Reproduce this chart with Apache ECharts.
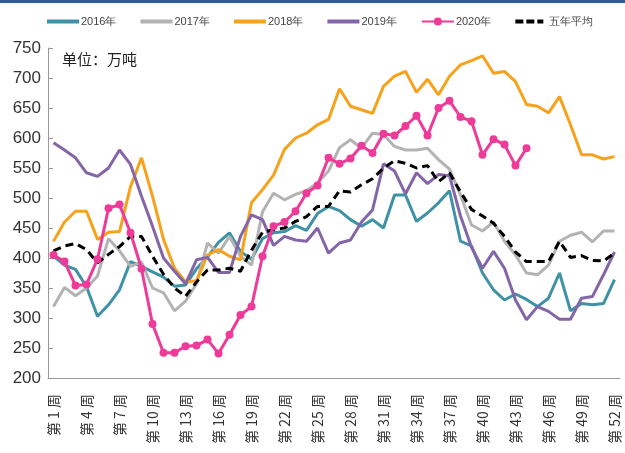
<!DOCTYPE html>
<html><head><meta charset="utf-8">
<script src="https://cdn.jsdelivr.net/npm/echarts@6/dist/echarts.min.js"></script>
<style>html,body{margin:0;padding:0;background:#fff}#c{width:625px;height:453px}</style>
</head><body><div id="c"></div>
<script>
var weeks = [];
for (var i = 1; i <= 52; i++) weeks.push('第 ' + i + ' 周');
var yTicks = {min: 200, max: 750, interval: 50};
var s2016 = [403,388,381,352,303,322,347,394,386,377,368,353,355,382,402,426,442,411,398,432,442,444,454,446,474,486,479,464,453,464,450,505,505,461,475,492,512,428,420,375,347,330,340,331,319,333,375,312,324,322,324,364];
var s2017 = [319,351,337,350,370,432,412,386,393,350,342,312,328,357,425,408,436,403,388,477,508,497,506,512,525,545,584,597,583,608,606,586,580,580,583,564,548,505,455,445,460,428,405,375,372,388,428,438,443,427,445,445];
var s2018 = [428,460,478,478,431,443,444,519,567,503,431,383,360,362,405,414,403,397,492,514,538,581,600,608,622,631,682,653,647,641,686,703,711,676,698,672,703,722,729,737,708,711,694,656,653,642,669,622,572,572,565,569];
var s2019 = [592,580,567,542,536,550,580,556,503,453,400,378,357,397,401,376,376,436,472,464,421,436,430,428,450,408,425,430,460,480,557,545,507,542,524,539,537,470,418,383,411,383,330,297,319,311,298,298,333,336,372,410];
var s2020 = [405,394,354,356,398,483,489,442,382,290,242,242,253,254,264,241,272,305,319,403,453,460,478,508,521,567,557,566,587,575,607,604,620,637,604,650,662,635,628,572,598,589,554,583];
var sAvg = [412,420,424,414,392,406,419,436,436,403,373,350,336,360,380,380,383,378,413,443,447,450,461,469,486,486,512,510,522,532,550,562,558,550,554,527,542,510,481,470,458,436,410,394,394,394,428,401,404,396,395,408];
var names = ['2016年','2017年','2018年','2019年','2020年','五年平均'];

var font = '"Liberation Sans Narrow","Liberation Sans",Arial,sans-serif';
var solidIcon = 'path://M0,0h0.01v0.01h-0.01z M0,3h32v4h-32z M31.99,9.99h0.01v0.01h-0.01z';
var dashIcon = 'path://M0,0h0.01v0.01h-0.01z M0,3h8v4h-8z M11,3h8v4h-8z M22,3h6v4h-6z M31.99,9.99h0.01v0.01h-0.01z';
var chart = echarts.init(document.getElementById('c'), null, {renderer: 'canvas'});
function line(name, data, color, extra) {
  var s = {name: name, type: 'line', data: data, symbol: 'none', smooth: false,
    lineStyle: {color: color, width: 3}, itemStyle: {color: color}, z: 2};
  for (var k in extra) s[k] = extra[k];
  return s;
}
chart.setOption({
  animation: false,
  backgroundColor: '#fff',
  graphic: [{type: 'rect', shape: {x: 0, y: 0, width: 625, height: 3}, style: {fill: '#2f5c93'}}],
  title: {text: '单位：万吨', left: 57, top: 47, textStyle: {fontSize: 15, fontWeight: 'normal', color: '#222', fontFamily: '"Noto Sans CJK SC",sans-serif'}},
  legend: {
    data: [
      {name: names[0], icon: solidIcon},
      {name: names[1], icon: solidIcon},
      {name: names[2], icon: solidIcon},
      {name: names[3], icon: solidIcon},
      {name: names[4]},
      {name: names[5], icon: dashIcon, itemStyle: {color: '#000'}}
    ],
    top: 11, left: 42, itemWidth: 32, itemHeight: 10, itemGap: 24,
    textStyle: {fontSize: 11, color: '#444', fontFamily: font, padding: [0,0,0,-3]}
  },
  grid: {left: 48, right: 5, top: 48, bottom: 75},
  xAxis: {
    type: 'category', data: weeks, boundaryGap: true,
    axisLine: {lineStyle: {color: '#999', width: 1}},
    axisTick: {inside: true, length: 5, interval: 0, lineStyle: {color: '#999'}},
    axisLabel: {interval: 2, rotate: 90, margin: 16, fontSize: 14, color: '#333', fontFamily: '"Noto Sans CJK SC",sans-serif'}
  },
  yAxis: {
    type: 'value', min: yTicks.min, max: yTicks.max, interval: yTicks.interval,
    axisLine: {show: true, lineStyle: {color: '#999'}},
    axisTick: {show: true, inside: true, length: 5, lineStyle: {color: '#999'}},
    splitLine: {show: false},
    axisLabel: {fontSize: 17, color: '#333', margin: 7, fontFamily: font}
  },
  series: [
    line('2016年', s2016, '#3f91a6'),
    line('2017年', s2017, '#b3b3b3'),
    line('2018年', s2018, '#f7a21b'),
    line('2019年', s2019, '#8465a8'),
    line('2020年', s2020, '#ee3a98', {symbol: 'circle', symbolSize: 8, showAllSymbol: true, z: 4}),
    line('五年平均', sAvg, '#000', {lineStyle: {color: '#000', width: 3, type: [8, 5]}, z: 3})
  ]
});
</script></body></html>
